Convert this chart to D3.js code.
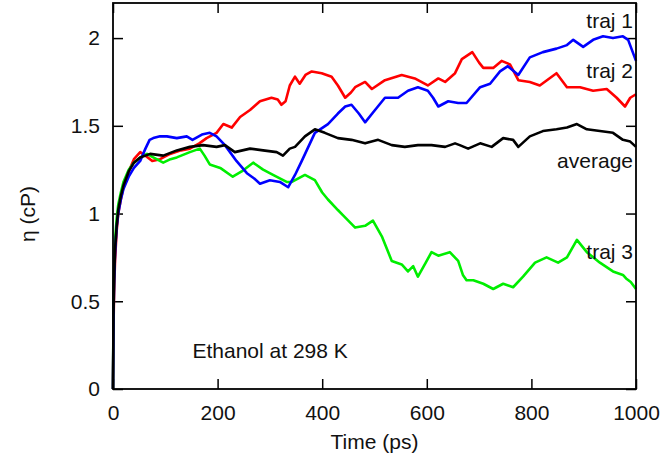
<!DOCTYPE html>
<html>
<head>
<meta charset="utf-8">
<script src="https://cdn.jsdelivr.net/npm/d3@7"></script>
<style>
  body { margin: 0; background: #fff; }
  text { font-family: "Liberation Sans", Arial, sans-serif; }
</style>
</head>
<body>
<div id="container"></div>
<script>
// [time (ps), viscosity (cP)]
var traj1 = [[0,0],[1,0.4],[2,0.6],[4,0.78],[7,0.92],[10,1.0],[15,1.08],[20,1.14],[30,1.21],[40,1.26],[52,1.3],[62,1.37],[70,1.42],[77,1.43],[90,1.44],[103,1.44],[122,1.43],[141,1.44],[152,1.42],[170,1.45],[185,1.46],[198,1.44],[214,1.39],[236,1.3],[256,1.23],[270,1.2],[281,1.17],[300,1.19],[319,1.18],[335,1.15],[348,1.22],[361,1.3],[386,1.46],[411,1.51],[430,1.57],[444,1.61],[456,1.62],[470,1.57],[482,1.52],[501,1.59],[520,1.66],[545,1.66],[564,1.7],[583,1.72],[602,1.7],[612,1.66],[622,1.61],[641,1.64],[660,1.63],[676,1.63],[702,1.72],[721,1.74],[740,1.81],[755,1.84],[775,1.79],[797,1.89],[822,1.92],[848,1.94],[868,1.96],[880,1.99],[899,1.95],[918,1.99],[937,2.01],[956,2.0],[975,2.01],[985,1.99],[1000,1.87]]

var traj2 = [[0,0],[1,0.35],[2,0.55],[4,0.74],[7,0.9],[10,1.0],[15,1.08],[20,1.15],[30,1.24],[40,1.31],[52,1.35],[62,1.33],[75,1.3],[90,1.31],[109,1.34],[130,1.36],[147,1.37],[165,1.4],[179,1.43],[198,1.46],[211,1.51],[227,1.49],[243,1.55],[262,1.59],[281,1.64],[303,1.66],[315,1.65],[322,1.62],[330,1.64],[338,1.73],[348,1.78],[357,1.74],[368,1.79],[380,1.81],[399,1.8],[418,1.78],[430,1.73],[444,1.66],[455,1.69],[463,1.72],[482,1.75],[495,1.71],[520,1.76],[552,1.79],[577,1.77],[602,1.73],[622,1.77],[635,1.75],[654,1.8],[667,1.88],[687,1.92],[700,1.86],[708,1.83],[727,1.83],[743,1.87],[759,1.85],[775,1.76],[797,1.75],[816,1.73],[848,1.8],[868,1.72],[893,1.72],[918,1.7],[944,1.71],[963,1.66],[979,1.61],[989,1.66],[1000,1.68]]

var traj3 = [[0,0],[1,0.48],[2,0.68],[4,0.85],[7,0.97],[10,1.05],[15,1.12],[20,1.18],[30,1.25],[40,1.29],[52,1.32],[65,1.34],[77,1.32],[96,1.29],[110,1.31],[122,1.32],[147,1.35],[166,1.37],[175,1.33],[185,1.28],[205,1.26],[229,1.21],[246,1.24],[268,1.29],[287,1.25],[306,1.22],[332,1.18],[342,1.18],[367,1.22],[386,1.19],[400,1.12],[411,1.08],[430,1.02],[440,0.99],[463,0.92],[482,0.93],[497,0.96],[514,0.87],[533,0.73],[552,0.71],[564,0.67],[574,0.7],[583,0.64],[598,0.72],[609,0.78],[622,0.76],[644,0.78],[660,0.73],[669,0.65],[676,0.62],[689,0.62],[708,0.6],[727,0.57],[746,0.6],[765,0.58],[784,0.64],[807,0.72],[829,0.75],[851,0.72],[868,0.75],[887,0.85],[906,0.78],[931,0.72],[956,0.67],[975,0.65],[981,0.63],[990,0.61],[1000,0.57]]

var average = [[0,0],[1,0.42],[2,0.62],[4,0.8],[7,0.93],[10,1.02],[15,1.1],[20,1.16],[30,1.24],[40,1.29],[52,1.32],[71,1.34],[96,1.33],[122,1.36],[147,1.38],[172,1.39],[198,1.38],[214,1.39],[233,1.35],[262,1.37],[287,1.36],[313,1.35],[325,1.33],[338,1.37],[348,1.38],[367,1.44],[386,1.48],[405,1.46],[430,1.43],[456,1.42],[482,1.4],[507,1.42],[533,1.39],[558,1.38],[583,1.39],[609,1.39],[635,1.38],[654,1.4],[663,1.39],[679,1.37],[702,1.4],[724,1.38],[746,1.43],[765,1.42],[775,1.38],[797,1.44],[822,1.47],[848,1.48],[868,1.49],[887,1.51],[906,1.48],[931,1.47],[956,1.46],[975,1.42],[989,1.41],[1000,1.38]]

var xTicks = [0, 200, 400, 600, 800, 1000]
var yTicks = [0, 0.5, 1, 1.5, 2]

var series = [
  {name: "traj 2", data: traj2, color: "#ff0000", labelY: 1.77},
  {name: "traj 3", data: traj3, color: "#00ee00", labelY: 0.74},
  {name: "traj 1", data: traj1, color: "#0000ff", labelY: 2.06},
  {name: "average", data: average, color: "#000000", labelY: 1.26}
]

var margin = {left: 113, right: 31, top: 3, bottom: 72}
var W = 667, H = 461
var width = W - margin.left - margin.right
var height = H - margin.top - margin.bottom
var fs = 21

var svg = d3.select("#container").append("svg")
  .attr("width", W)
  .attr("height", H)

var g = svg.append("g")
  .attr("transform", `translate(${margin.left}, ${margin.top})`)

var x = d3.scaleLinear().domain([0, 1000]).range([0, width])
var y = d3.scaleLinear().domain([0, 2.2]).range([height, 0])

// axes, ticks point inward on all four sides
var fmt = d3.format("~g")
g.append("g").attr("transform", `translate(0, ${height})`)
  .call(d3.axisBottom(x).tickValues(xTicks).tickFormat(fmt).tickSizeInner(-10).tickSizeOuter(0).tickPadding(16))
g.append("g")
  .call(d3.axisTop(x).tickValues(xTicks).tickFormat("").tickSizeInner(-10).tickSizeOuter(0))
g.append("g")
  .call(d3.axisLeft(y).tickValues(yTicks).tickFormat(fmt).tickSizeInner(-10).tickSizeOuter(0).tickPadding(13))
g.append("g").attr("transform", `translate(${width}, 0)`)
  .call(d3.axisRight(y).tickValues(yTicks).tickFormat("").tickSizeInner(-10).tickSizeOuter(0))

g.selectAll(".domain").remove()
g.selectAll(".tick line").attr("stroke", "#000").attr("stroke-width", 1.5)
g.selectAll(".tick text").attr("font-size", fs).attr("fill", "#111")
  .style("font-family", '"Liberation Sans", Arial, sans-serif')

var line = d3.line()
  .x(d => x(d[0]))
  .y(d => y(d[1]))

g.selectAll(".series")
  .data(series)
  .enter().append("path")
  .attr("class", "series")
  .attr("fill", "none")
  .attr("stroke", d => d.color)
  .attr("stroke-width", 2.6)
  .attr("stroke-linejoin", "round")
  .attr("d", d => line(d.data))

// frame
g.append("rect")
  .attr("width", width)
  .attr("height", height)
  .attr("fill", "none")
  .attr("stroke", "#000")
  .attr("stroke-width", 1.8)

// series labels, right aligned inside the frame
g.selectAll(".lbl")
  .data(series)
  .enter().append("text")
  .attr("class", "lbl")
  .attr("x", width - 3)
  .attr("y", d => y(d.labelY))
  .attr("text-anchor", "end")
  .attr("font-size", fs)
  .attr("fill", "#111")
  .text(d => d.name)

g.append("text")
  .attr("x", x(152))
  .attr("y", y(0.176))
  .attr("font-size", fs)
  .attr("fill", "#111")
  .text("Ethanol at 298 K")

svg.append("text")
  .attr("x", margin.left + width / 2)
  .attr("y", 449)
  .attr("text-anchor", "middle")
  .attr("font-size", fs)
  .attr("fill", "#111")
  .text("Time (ps)")

svg.append("text")
  .attr("transform", "translate(35, 214) rotate(-90)")
  .attr("text-anchor", "middle")
  .attr("font-size", fs)
  .attr("fill", "#111")
  .text("η (cP)")
</script>
</body>
</html>
